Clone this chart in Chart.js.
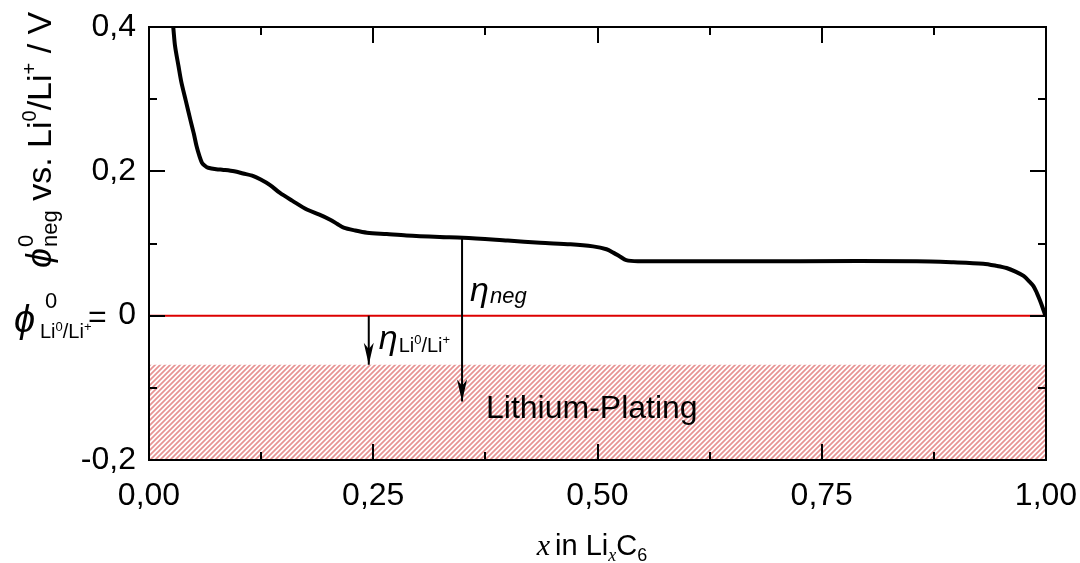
<!DOCTYPE html>
<html>
<head>
<meta charset="utf-8">
<script src="https://cdn.jsdelivr.net/npm/chart.js@4/dist/chart.umd.min.js"></script>
<style>
  html, body { margin: 0; padding: 0; background: #fff; }
  #wrap { width: 1080px; height: 563px; position: relative; }
</style>
</head>
<body>
<div id="wrap"><canvas id="c" width="1080" height="563"></canvas></div>
<script>
// Open-circuit potential of the graphite electrode vs. degree of lithiation
const curveX = [0.024, 0.027, 0.029, 0.033, 0.036, 0.041, 0.046, 0.050, 0.053, 0.056,
                0.059, 0.063, 0.066, 0.075, 0.083, 0.095, 0.105, 0.115, 0.124, 0.135,
                0.146, 0.160, 0.176, 0.190, 0.202, 0.210, 0.217, 0.230, 0.243, 0.265,
                0.287, 0.324, 0.350, 0.400, 0.436, 0.470, 0.495, 0.510, 0.518, 0.525,
                0.532, 0.545, 0.614, 0.726, 0.856, 0.897, 0.930, 0.945, 0.956, 0.966,
                0.975, 0.981, 0.986, 0.990, 0.993, 0.996, 0.999];
const curveY = [0.430, 0.400, 0.374, 0.345, 0.324, 0.298, 0.272, 0.252, 0.235, 0.222,
                0.212, 0.207, 0.205, 0.203, 0.202, 0.200, 0.197, 0.194, 0.189, 0.181,
                0.170, 0.159, 0.147, 0.140, 0.133, 0.127, 0.122, 0.118, 0.115, 0.113,
                0.111, 0.109, 0.108, 0.104, 0.101, 0.099, 0.096, 0.092, 0.087, 0.082,
                0.077, 0.0755, 0.0755, 0.0755, 0.0755, 0.074, 0.072, 0.069, 0.066, 0.061,
                0.055, 0.048, 0.041, 0.031, 0.022, 0.012, 0.001];

// Li0/Li+ reference potential and the plating region below it
const zeroLineX = [0, 1];
const zeroLineY = [0, 0];
const platingX = [0, 1];
const platingTop = [-0.068, -0.068];

// Overpotential arrows
const etaNegX = [0.349, 0.349];
const etaNegY = [0.108, -0.119];
const etaLiX = [0.245, 0.245];
const etaLiY = [0, -0.068];

// Axis ticks
const xMajor = [0, 0.25, 0.5, 0.75, 1];
const xMinor = [0.125, 0.375, 0.625, 0.875];
const yMajor = [-0.2, 0, 0.2, 0.4];
const yMinor = [-0.1, 0.1, 0.3];

const SANS = '"Liberation Sans", Arial, "DejaVu Sans", sans-serif';
const SERIF = '"Liberation Serif", "DejaVu Serif", serif';

function pts(xs, ys) { return xs.map((x, i) => ({ x: x, y: ys[i] })); }
function comma(v, d) {
  const r = Math.abs(v) < 1e-9 ? 0 : v;
  return r.toFixed(d).replace('.', ',');
}

// diagonal hatch for the plating region
function hatch() {
  const s = 5;
  const c = document.createElement('canvas');
  c.width = s; c.height = s;
  const g = c.getContext('2d');
  g.fillStyle = '#ffffff';
  g.fillRect(0, 0, s, s);
  g.strokeStyle = '#e79393';
  g.lineWidth = 1.7;
  g.beginPath();
  g.moveTo(-1, s + 1); g.lineTo(s + 1, -1);
  g.moveTo(-1, 1); g.lineTo(1, -1);
  g.moveTo(s - 1, s + 1); g.lineTo(s + 1, s - 1);
  g.stroke();
  return g.createPattern(c, 'repeat');
}

// draws a run of text pieces left to right; returns the end x
function run(ctx, pieces, x, y) {
  for (const p of pieces) {
    if (p.stack) {
      let w = 0;
      for (const q of p.stack) {
        ctx.font = q.font;
        ctx.fillText(q.t, x + (q.dx || 0), y + (q.dy || 0));
        w = Math.max(w, ctx.measureText(q.t).width + (q.dx || 0));
      }
      x += w + (p.after || 0);
    } else {
      ctx.font = p.font;
      ctx.fillText(p.t, x + (p.dx || 0), y + (p.dy || 0));
      x += ctx.measureText(p.t).width + (p.dx || 0) + (p.after || 0);
    }
  }
  return x;
}

function arrowHead(ctx, x, yTip, len, half) {
  ctx.beginPath();
  ctx.moveTo(x, yTip);
  ctx.lineTo(x - half, yTip - len);
  ctx.lineTo(x, yTip - len * 0.72);
  ctx.lineTo(x + half, yTip - len);
  ctx.closePath();
  ctx.fill();
}

const decor = {
  id: 'decor',
  afterDatasetsDraw(chart) {
    const ctx = chart.ctx;
    const xs = chart.scales.x, ys = chart.scales.y;
    ctx.save();
    ctx.fillStyle = '#000';
    arrowHead(ctx, xs.getPixelForValue(etaNegX[1]), ys.getPixelForValue(etaNegY[1]), 22, 5);
    arrowHead(ctx, xs.getPixelForValue(etaLiX[1]), ys.getPixelForValue(etaLiY[1]), 22, 5);
    ctx.restore();
  },
  afterDraw(chart) {
    const ctx = chart.ctx;
    const a = chart.chartArea;
    const xs = chart.scales.x, ys = chart.scales.y;
    ctx.save();
    ctx.strokeStyle = '#000';
    ctx.fillStyle = '#000';
    ctx.lineWidth = 2;
    // inward ticks on all four sides
    ctx.beginPath();
    const tx = (v, len) => {
      const p = Math.round(xs.getPixelForValue(v));
      ctx.moveTo(p, a.bottom); ctx.lineTo(p, a.bottom - len);
      ctx.moveTo(p, a.top); ctx.lineTo(p, a.top + len);
    };
    const ty = (v, len) => {
      const p = Math.round(ys.getPixelForValue(v));
      ctx.moveTo(a.left, p); ctx.lineTo(a.left + len, p);
      ctx.moveTo(a.right, p); ctx.lineTo(a.right - len, p);
    };
    xMajor.forEach(v => tx(v, 16));
    xMinor.forEach(v => tx(v, 8));
    yMajor.forEach(v => ty(v, 16));
    yMinor.forEach(v => ty(v, 8));
    ctx.stroke();
    ctx.strokeRect(a.left, a.top, a.right - a.left, a.bottom - a.top);

    ctx.textBaseline = 'alphabetic';
    ctx.textAlign = 'left';

    // x axis title: x in Li_x C_6
    const xt = [
      { t: 'x', font: 'italic 30px ' + SERIF, after: 5 },
      { t: 'in Li', font: '29px ' + SANS },
      { t: 'x', font: 'italic 18px ' + SERIF, dy: 6 },
      { t: 'C', font: '29px ' + SANS },
      { t: '6', font: '18px ' + SANS, dy: 6 }
    ];
    let w = 0;
    for (const p of xt) { ctx.font = p.font; w += ctx.measureText(p.t).width + (p.after || 0); }
    run(ctx, xt, 592 - w / 2, 555);

    // y axis title, rotated
    ctx.save();
    ctx.translate(51, 268);
    ctx.rotate(-Math.PI / 2);
    run(ctx, [
      { t: '\u03D5', font: 'italic 36px ' + SANS, after: 1 },
      { stack: [
          { t: '0', font: '22px ' + SANS, dy: -18 },
          { t: 'neg', font: '22px ' + SANS, dy: 6 }
        ], after: 0 },
      { t: ' vs. Li', font: '34px ' + SANS },
      { t: '0', font: '20px ' + SANS, dy: -15 },
      { t: '/Li', font: '34px ' + SANS },
      { t: '+', font: '20px ' + SANS, dy: -15 },
      { t: ' / V', font: '34px ' + SANS }
    ], 0, 0);
    ctx.restore();

    // label of the zero tick: phi_{Li0/Li+} =
    const y0 = ys.getPixelForValue(0);
    ctx.font = 'italic 38px ' + SANS;
    ctx.fillText('\u03D5', 14, y0 + 16);
    ctx.font = '22px ' + SANS;
    ctx.fillText('0', 45, y0 - 8);
    run(ctx, [
      { t: 'Li', font: '20px ' + SANS },
      { t: '0', font: '13px ' + SANS, dy: -7 },
      { t: '/Li', font: '20px ' + SANS },
      { t: '+', font: '13px ' + SANS, dy: -7 }
    ], 40, y0 + 22);
    ctx.font = '32px ' + SANS;
    ctx.fillText('=', 88, y0 + 11);

    // eta_neg
    const xn = xs.getPixelForValue(etaNegX[0]);
    run(ctx, [
      { t: '\u03B7', font: 'italic 34px ' + SANS, after: 1 },
      { t: 'neg', font: 'italic 22px ' + SANS, dy: 2 }
    ], xn + 8, y0 - 15);

    // eta_{Li0/Li+}
    const xl = xs.getPixelForValue(etaLiX[0]);
    run(ctx, [
      { t: '\u03B7', font: 'italic 34px ' + SANS, after: 1 },
      { t: 'Li', font: '20px ' + SANS, dy: 3 },
      { t: '0', font: '13px ' + SANS, dy: -5 },
      { t: '/Li', font: '20px ' + SANS, dy: 3 },
      { t: '+', font: '13px ' + SANS, dy: -5 }
    ], xl + 10, y0 + 33);

    // region label
    ctx.font = '32px ' + SANS;
    ctx.fillText('Lithium-Plating', 486, 418);
    ctx.restore();
  }
};

Chart.defaults.font.family = SANS;
Chart.defaults.color = '#000';

new Chart(document.getElementById('c'), {
  type: 'line',
  data: {
    datasets: [
      { data: pts(curveX, curveY), borderColor: '#000', borderWidth: 4, pointRadius: 0,
        fill: false, tension: 0.3, order: 0 },
      { data: pts(etaNegX, etaNegY), borderColor: '#000', borderWidth: 2, pointRadius: 0,
        fill: false, order: 1 },
      { data: pts(etaLiX, etaLiY), borderColor: '#000', borderWidth: 2, pointRadius: 0,
        fill: false, order: 1 },
      { data: pts(zeroLineX, zeroLineY), borderColor: '#dd0000', borderWidth: 2, pointRadius: 0,
        fill: false, order: 2 },
      { data: pts(platingX, platingTop), borderWidth: 0, borderColor: 'rgba(0,0,0,0)',
        pointRadius: 0, backgroundColor: hatch(), fill: 'start', order: 3 }
    ]
  },
  options: {
    responsive: false,
    animation: false,
    layout: { padding: { top: 27, right: 34, left: 0, bottom: 0 } },
    plugins: { legend: { display: false }, tooltip: { enabled: false } },
    scales: {
      x: {
        type: 'linear', min: 0, max: 1,
        grid: { display: false, drawTicks: false },
        border: { display: false },
        afterFit(s) { s.height = 103; s.paddingLeft = 0; s.paddingRight = 0; },
        ticks: { stepSize: 0.25, padding: 17, font: { size: 32 }, color: '#000',
                 maxRotation: 0, callback: v => comma(v, 2) }
      },
      y: {
        type: 'linear', min: -0.2, max: 0.4,
        grid: { display: false, drawTicks: false },
        border: { display: false },
        afterFit(s) { s.width = 149; s.paddingTop = 0; s.paddingBottom = 0; },
        ticks: { stepSize: 0.2, padding: 13, font: { size: 32 }, color: '#000',
                 callback: v => (Math.abs(v) < 1e-9 ? '0' : comma(v, 1)) }
      }
    }
  },
  plugins: [decor]
});
</script>
</body>
</html>
